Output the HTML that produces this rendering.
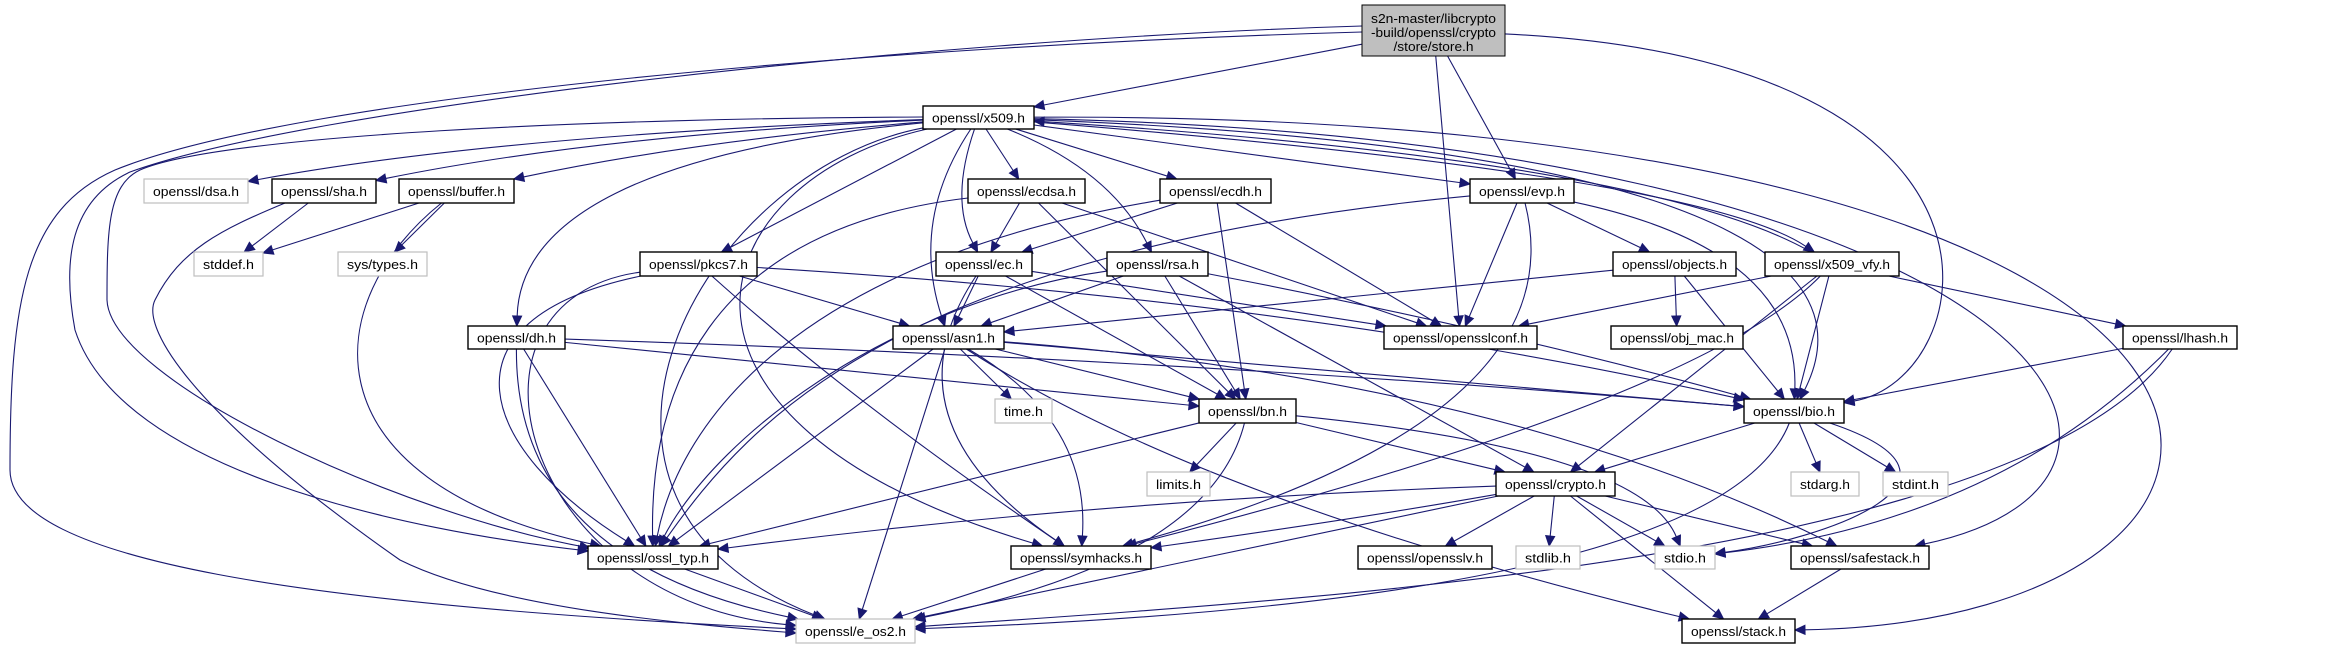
<!DOCTYPE html>
<html><head><meta charset="utf-8"><style>
html,body{margin:0;padding:0;background:#fff;}
svg{display:block;}
text{font-family:"Liberation Sans",sans-serif;font-size:13px;fill:#000;}
</style></head><body>
<svg id="g" width="2331" height="649" viewBox="0 0 2331 649" xmlns="http://www.w3.org/2000/svg">
<g id="edges" fill="none" stroke="#191970" stroke-width="1.1"></g>
<g id="arrows" fill="#191970" stroke="#191970"></g>
<g id="nodes">
<rect x="1362" y="5" width="143" height="51" fill="#bfbfbf" stroke="#000"/>
<text x="1433.5" y="23" text-anchor="middle" textLength="125" lengthAdjust="spacingAndGlyphs">s2n-master/libcrypto</text>
<text x="1433.5" y="37" text-anchor="middle" textLength="125" lengthAdjust="spacingAndGlyphs">-build/openssl/crypto</text>
<text x="1433.5" y="51" text-anchor="middle" textLength="80" lengthAdjust="spacingAndGlyphs">/store/store.h</text>
</g>
</svg>
<script>
var N={
x509:[923,106,1034,129,'openssl/x509.h',0],
dsa:[144,179,248,203,'openssl/dsa.h',1],
sha:[272,179,376,203,'openssl/sha.h',0],
buffer:[399,179,514,203,'openssl/buffer.h',0],
ecdsa:[968,179,1085,203,'openssl/ecdsa.h',0],
ecdh:[1160,179,1271,203,'openssl/ecdh.h',0],
evp:[1470,179,1574,203,'openssl/evp.h',0],
stddef:[194,252,263,276,'stddef.h',1],
systypes:[338,252,427,276,'sys/types.h',1],
pkcs7:[640,252,757,276,'openssl/pkcs7.h',0],
ec:[936,252,1032,276,'openssl/ec.h',0],
rsa:[1107,252,1208,276,'openssl/rsa.h',0],
objects:[1613,252,1736,276,'openssl/objects.h',0],
x509vfy:[1765,252,1899,276,'openssl/x509_vfy.h',0],
dh:[468,326,565,349,'openssl/dh.h',0],
asn1:[893,326,1004,349,'openssl/asn1.h',0],
conf:[1384,326,1537,349,'openssl/opensslconf.h',0],
objmac:[1611,326,1743,349,'openssl/obj_mac.h',0],
lhash:[2123,326,2237,349,'openssl/lhash.h',0],
time:[995,399,1052,423,'time.h',1],
bn:[1199,399,1296,423,'openssl/bn.h',0],
bio:[1744,399,1844,423,'openssl/bio.h',0],
limits:[1147,472,1210,496,'limits.h',1],
crypto:[1496,472,1615,496,'openssl/crypto.h',0],
stdarg:[1791,472,1859,496,'stdarg.h',1],
stdint:[1883,472,1948,496,'stdint.h',1],
ossl:[588,546,718,569,'openssl/ossl_typ.h',0],
symhacks:[1011,546,1151,569,'openssl/symhacks.h',0],
opensslv:[1358,546,1492,569,'openssl/opensslv.h',0],
stdlib:[1516,546,1580,569,'stdlib.h',1],
stdio:[1655,546,1715,569,'stdio.h',1],
safestack:[1791,546,1929,569,'openssl/safestack.h',0],
e_os2:[796,619,915,643,'openssl/e_os2.h',1],
stack:[1682,619,1795,643,'openssl/stack.h',0],
store:[1362,5,1505,56,'',2]
};
var P=[
['M1362,32 C900,45 300,95 115,170 C25,210 10,300 10,470 C10,560 300,605 796,629',[300,605]],
['M1362,26 C900,40 300,110 130,172 C70,200 62,260 75,330 C120,470 400,530 588,551',[400,530]],
['M923,117 C600,118 220,135 140,170 C108,185 107,230 107,300 C110,380 400,515 590,548',[400,515]],
['M285,203 C220,230 180,250 155,300 C140,330 200,420 400,560 C500,610 700,625 796,633',[700,625]]
];
var E=[
['store','x509'],['store','evp'],['store','conf'],
['store','bio',[2050,60],[1980,380]],
['x509','dsa',[500,135]],['x509','sha',[600,135]],['x509','buffer',[700,140]],
['x509','pkcs7'],['x509','dh',[640,150],[520,220]],
['x509','e_os2',[700,170],[520,500]],
['x509','symhacks',[700,180],[620,420]],
['x509','ecdsa'],['x509','ecdh'],['x509','ec',[950,200]],['x509','rsa',[1110,170]],
['x509','asn1',[910,220]],['x509','evp'],
['x509','bio',[1820,150],[1850,300]],
['x509','x509vfy',[1700,175]],['x509vfy','x509',[1650,160]],
['x509','stack',[2380,110],[2360,620]],
['x509','safestack',[2050,140],[2230,480]],
['sha','stddef'],
['buffer','stddef'],['buffer','systypes'],['buffer','ossl',[320,300],[300,480]],
['pkcs7','asn1'],['pkcs7','bio',[1300,300]],['pkcs7','symhacks',[850,400]],['pkcs7','ossl',[430,320],[480,450]],['pkcs7','e_os2',[440,300],[520,600]],
['dh','bio',[1200,360]],['dh','bn'],['dh','ossl'],['dh','e_os2',[515,560]],
['ecdsa','ec'],['ecdsa','bn'],['ecdsa','conf'],['ecdsa','ossl',[700,230],[650,400]],
['ecdh','ec'],['ecdh','bn'],['ecdh','conf'],['ecdh','ossl',[800,260],[680,420]],
['ec','asn1'],['ec','bn'],['ec','conf'],['ec','symhacks',[880,420]],
['rsa','asn1'],['rsa','bn'],['rsa','crypto'],['rsa','bio',[1500,330]],['rsa','ossl',[900,300],[720,430]],
['evp','objects'],['evp','conf'],['evp','bio',[1800,250]],['evp','symhacks',[1580,420]],['evp','ossl',[900,250],[750,420]],
['objects','objmac'],['objects','bio'],['objects','asn1'],
['x509vfy','bio'],['x509vfy','lhash'],['x509vfy','crypto'],['x509vfy','symhacks',[1700,400]],['x509vfy','conf'],
['lhash','bio'],['lhash','stdio',[2000,520]],['lhash','e_os2',[2030,560],[1300,600]],
['asn1','time'],['asn1','bn'],['asn1','bio'],['asn1','symhacks',[1090,420]],['asn1','e_os2'],['asn1','ossl'],
['asn1','stack',[1200,500]],['asn1','safestack',[1500,380]],
['bn','limits'],['bn','crypto'],['bn','ossl'],['bn','e_os2',[1210,560]],['bn','stdio',[1640,450]],
['bio','crypto'],['bio','stdarg'],['bio','stdint'],['bio','stdio',[2000,480],[1820,540]],['bio','e_os2',[1720,600]],
['crypto','opensslv'],['crypto','stdlib'],['crypto','stdio'],['crypto','safestack'],['crypto','stack'],
['crypto','symhacks',[1350,520]],['crypto','ossl',[1100,500]],['crypto','e_os2'],
['safestack','stack'],['symhacks','e_os2'],['ossl','e_os2']
];
function C(n){var b=N[n];return [(b[0]+b[2])/2,(b[1]+b[3])/2];}
function clip(n,q){var b=N[n],c=C(n),dx=q[0]-c[0],dy=q[1]-c[1];var hw=(b[2]-b[0])/2,hh=(b[3]-b[1])/2;
var t=Math.min(dx?hw/Math.abs(dx):1e9,dy?hh/Math.abs(dy):1e9);return [c[0]+dx*t,c[1]+dy*t];}
var eg=document.getElementById('edges'),ag=document.getElementById('arrows'),ns='http://www.w3.org/2000/svg';
function arrow(p1,last){var dx=p1[0]-last[0],dy=p1[1]-last[1],L=Math.hypot(dx,dy)||1;dx/=L;dy/=L;
var base=[p1[0]-dx*10,p1[1]-dy*10],px=-dy,py=dx;var poly=document.createElementNS(ns,'polygon');
poly.setAttribute('points',p1[0]+','+p1[1]+' '+(base[0]+px*4.5)+','+(base[1]+py*4.5)+' '+(base[0]-px*4.5)+','+(base[1]-py*4.5));
ag.appendChild(poly);return base;}
E.forEach(function(e){var a=e[0],b=e[1],cs=e.slice(2);
var first=cs.length?cs[0]:C(b),last=cs.length?cs[cs.length-1]:C(a);
var p0=clip(a,first),p1=clip(b,last);
var base=arrow(p1,last);
var d='M'+p0[0]+','+p0[1];
if(cs.length==0)d+=' L'+base[0]+','+base[1];
else if(cs.length==1)d+=' Q'+cs[0][0]+','+cs[0][1]+' '+base[0]+','+base[1];
else d+=' C'+cs[0][0]+','+cs[0][1]+' '+cs[1][0]+','+cs[1][1]+' '+base[0]+','+base[1];
var p=document.createElementNS(ns,'path');p.setAttribute('d',d);eg.appendChild(p);});
P.forEach(function(e){var p=document.createElementNS(ns,'path');p.setAttribute('d',e[0]);eg.appendChild(p);
var m=e[0].match(/(-?[\d.]+),(-?[\d.]+)\s*$/);arrow([+m[1],+m[2]],e[1]);});
var ng=document.getElementById('nodes');
for(var k in N){var b=N[k];if(b[5]==2)continue;
var r=document.createElementNS(ns,'rect');r.setAttribute('x',b[0]);r.setAttribute('y',b[1]);r.setAttribute('width',b[2]-b[0]);r.setAttribute('height',b[3]-b[1]);
r.setAttribute('fill','#fff');r.setAttribute('stroke',b[5]?'#bfbfbf':'#000');r.setAttribute('stroke-width',b[5]?1.2:1.4);ng.appendChild(r);
var t=document.createElementNS(ns,'text');t.setAttribute('x',(b[0]+b[2])/2);t.setAttribute('y',(b[1]+b[3])/2+5);t.setAttribute('text-anchor','middle');
t.setAttribute('textLength',b[2]-b[0]-18);t.setAttribute('lengthAdjust','spacingAndGlyphs');t.textContent=b[4];ng.appendChild(t);}
</script>
</body></html>
